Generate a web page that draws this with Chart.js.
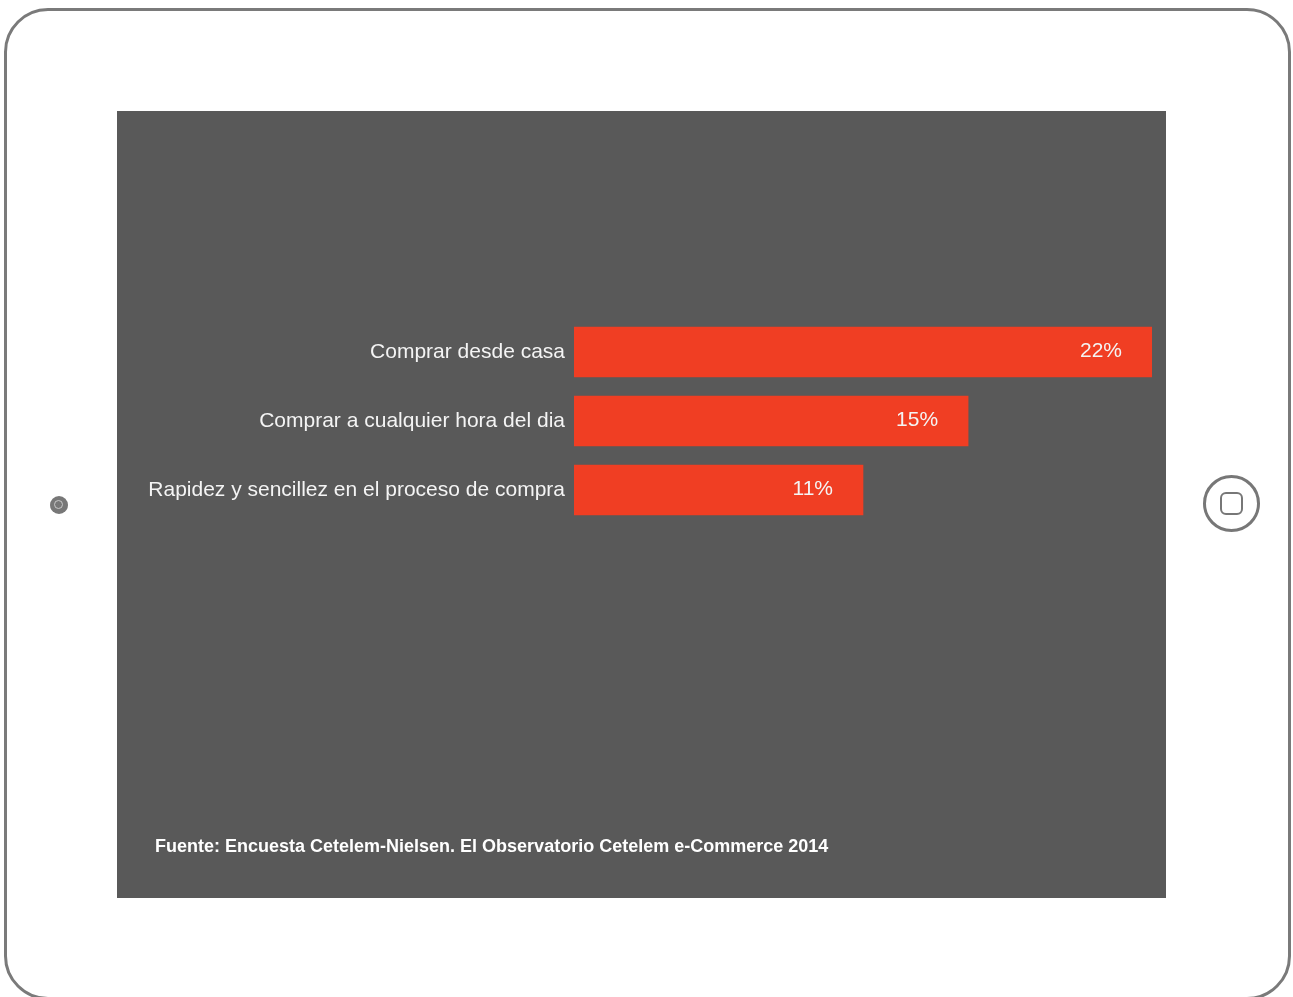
<!DOCTYPE html>
<html lang="es">
<head>
<meta charset="utf-8">
<title>Razones para comprar online</title>
<script src="https://cdn.jsdelivr.net/npm/chart.js@4/dist/chart.umd.min.js"></script>
<style>
  html, body { margin: 0; padding: 0; background: #fff; }
  body { width: 1293px; height: 997px; position: relative; overflow: hidden; font-family: "Liberation Sans", Arial, sans-serif; }
  .frame {
    position: absolute; left: 4px; top: 8px; width: 1281px; height: 986px;
    border: 3px solid #7a7a7a; border-radius: 44px;
  }
  .camera {
    position: absolute; left: 50px; top: 496px; width: 18px; height: 18px;
    border-radius: 50%; background: #777;
  }
  .camera::after {
    content: ""; position: absolute; left: 4px; top: 4px; width: 7px; height: 7px;
    border: 1.5px solid #c8c8c8; border-radius: 50%;
  }
  .home {
    position: absolute; left: 1203px; top: 475px; width: 51px; height: 51px;
    border: 3px solid #777; border-radius: 50%;
  }
  .home::after {
    content: ""; position: absolute; left: 14px; top: 14px; width: 19px; height: 19px;
    border: 2.5px solid #777; border-radius: 6px;
  }
  .panel {
    position: absolute; left: 117px; top: 111px; width: 1049px; height: 787px;
    background: #595959;
  }
  .panel canvas { position: absolute; left: 0; top: 0; }
  .source {
    position: absolute; left: 38px; top: 725px; color: #fff;
    font-weight: bold; font-size: 18px;
  }
</style>
</head>
<body>
<div class="frame"></div>
<div class="camera"></div>
<div class="home"></div>
<div class="panel">
  <canvas id="chart" width="1049" height="787"></canvas>
  <div class="source">Fuente: Encuesta Cetelem-Nielsen. El Observatorio Cetelem e-Commerce 2014</div>
</div>
<script>
  const categories = [
    'Comprar desde casa',
    'Comprar a cualquier hora del dia',
    'Rapidez y sencillez en el proceso de compra',
  ];
  const values = [22, 15, 11];

  const BAR_COLOR = '#f03e23';
  const TEXT_COLOR = '#f4f4f4';
  const FONT = '"Liberation Sans", Arial, sans-serif';

  // percentage written inside the end of each bar
  const valueLabels = {
    id: 'valueLabels',
    afterDatasetsDraw(chart) {
      const ctx = chart.ctx;
      const meta = chart.getDatasetMeta(0);
      ctx.save();
      ctx.fillStyle = TEXT_COLOR;
      ctx.font = '21px ' + FONT;
      ctx.textAlign = 'right';
      ctx.textBaseline = 'middle';
      meta.data.forEach((bar, i) => {
        ctx.fillText(values[i] + '%', bar.x - 30, bar.y - 1);
      });
      ctx.restore();
    },
  };

  new Chart(document.getElementById('chart'), {
    type: 'bar',
    data: {
      labels: categories,
      datasets: [{
        data: values,
        backgroundColor: BAR_COLOR,
        borderWidth: 0,
        barThickness: 50,
      }],
    },
    options: {
      indexAxis: 'y',
      responsive: false,
      animation: false,
      events: [],
      layout: { padding: { top: 206.5, bottom: 373.5, left: 0, right: 14 } },
      plugins: {
        legend: { display: false },
        tooltip: { enabled: false },
      },
      scales: {
        x: {
          display: false,
          min: 0,
          max: 22,
        },
        y: {
          grid: { display: false, drawTicks: false },
          border: { display: false },
          ticks: {
            color: TEXT_COLOR,
            padding: 9,
            font: { family: FONT, size: 21 },
          },
          afterFit(scale) { scale.width = 457; },
        },
      },
    },
    plugins: [valueLabels],
  });
</script>
</body>
</html>
